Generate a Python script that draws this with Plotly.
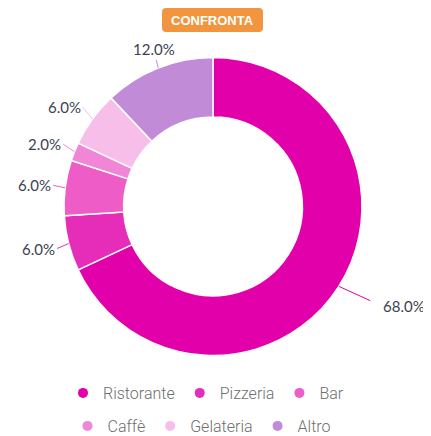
import math

import plotly.graph_objects as go

# ── Data ──
categories = ["Ristorante", "Pizzeria", "Bar", "Caffè", "Gelateria", "Altro"]
shares = [68, 6, 6, 2, 6, 12]
legend_rows = [["Ristorante", "Pizzeria", "Bar"], ["Caffè", "Gelateria", "Altro"]]
button_label = "CONFRONTA"

# ── Style ──
_COLORS = ["#E100A9", "#E62DBA", "#EE5CC8", "#F286D6", "#F8BEEA", "#C28BD7"]
_TEXT_DARK = "#3C4150"
_TEXT_LEGEND = "#6E6E6E"
_BUTTON = "#F2953F"

# page body keeps its default 8px margin, so the figure starts at (8, 8)
OFF = 8
W, H = 431 - OFF, 436 - OFF
# donut centre and outer radius, in page pixels
CX, CY, R = 213, 206.5, 149


def px(v):
    return (v - OFF) / W


def py(v):
    return 1 - (v - OFF) / H


color_of = dict(zip(categories, _COLORS))

fig = go.Figure()
fig.add_trace(go.Pie(
    labels=categories,
    values=shares,
    hole=0.6,
    sort=False,
    direction="clockwise",
    marker=dict(colors=_COLORS, line=dict(color="#FFFFFF", width=1.5)),
    textinfo="none",
    showlegend=False,
    domain=dict(x=[px(CX - R), px(CX + R)], y=[py(CY + R), py(CY - R)]),
))

# legend entries, one legend per row so each row is centred on its own
for row, legend_id in zip(legend_rows, ["legend", "legend2"]):
    for name in row:
        fig.add_trace(go.Scatter(
            x=[None], y=[None], mode="markers", name=name,
            marker=dict(color=color_of[name], size=10, symbol="circle"),
            legend=legend_id, hoverinfo="skip",
        ))

# outside percentage labels with connector lines
total = sum(shares)
annotations = []
cum = 0
for name, v in zip(categories, shares):
    mid = (cum + v / 2) / total * 2 * math.pi
    cum += v
    dx, dy = math.sin(mid), -math.cos(mid)
    right = dx > 0
    length = 36 if right else 12
    if abs(dx) < 0.5:
        xanchor = "center"
    else:
        xanchor = "left" if right else "right"
    annotations.append(dict(
        x=px(CX + R * dx), y=py(CY + R * dy),
        xref="paper", yref="paper",
        ax=dx * length + (12 if right else 0),
        ay=dy * length + (0 if right else dy * 8),
        text=f"{v / total * 100:.1f}%",
        showarrow=True, arrowhead=0, arrowwidth=1, arrowcolor=color_of[name],
        startstandoff=12 if right else 0,
        xanchor=xanchor, yanchor="middle",
        font=dict(family="Lato", size=15, color=_TEXT_DARK),
    ))

# button on top
bx0, bx1, by0, by1, rad = 162, 263, 8, 32, 4
path = (
    f"M {px(bx0 + rad)} {py(by0)} L {px(bx1 - rad)} {py(by0)} "
    f"Q {px(bx1)} {py(by0)} {px(bx1)} {py(by0 + rad)} L {px(bx1)} {py(by1 - rad)} "
    f"Q {px(bx1)} {py(by1)} {px(bx1 - rad)} {py(by1)} L {px(bx0 + rad)} {py(by1)} "
    f"Q {px(bx0)} {py(by1)} {px(bx0)} {py(by1 - rad)} L {px(bx0)} {py(by0 + rad)} "
    f"Q {px(bx0)} {py(by0)} {px(bx0 + rad)} {py(by0)} Z"
)
fig.add_shape(type="path", path=path, xref="paper", yref="paper",
              fillcolor=_BUTTON, line=dict(width=0), layer="above")
annotations.append(dict(
    x=px((bx0 + bx1) / 2), y=py((by0 + by1) / 2), xref="paper", yref="paper",
    text=f"<b>{button_label}</b>", showarrow=False,
    xanchor="center", yanchor="middle",
    font=dict(family="Liberation Sans", size=13, color="#FFFFFF"),
))

_legend_style = dict(
    orientation="h", xanchor="center", yanchor="middle",
    font=dict(family="Roboto", size=16, color=_TEXT_LEGEND, weight=300),
    bgcolor="rgba(0,0,0,0)", itemclick=False, itemdoubleclick=False,
)

fig.update_layout(
    width=W, height=H,
    paper_bgcolor="#FFFFFF", plot_bgcolor="#FFFFFF",
    margin=dict(l=0, r=0, t=0, b=0, autoexpand=False),
    xaxis=dict(visible=False), yaxis=dict(visible=False),
    legend=dict(**_legend_style, x=px(206), y=py(393)),
    legend2=dict(**_legend_style, x=px(202), y=py(426)),
    annotations=annotations,
)

fig.write_html("out.html")
